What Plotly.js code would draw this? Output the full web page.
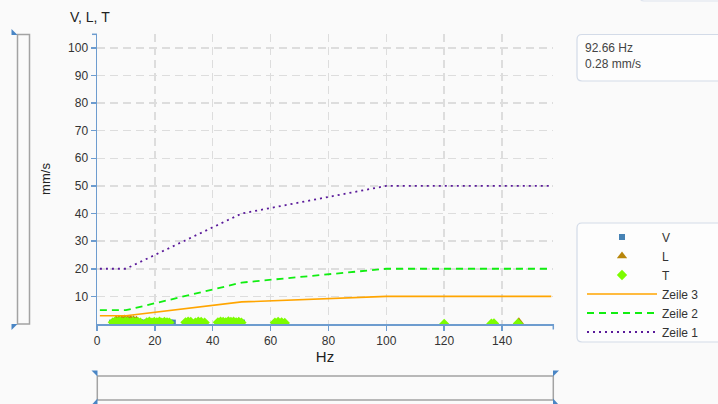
<!DOCTYPE html>
<html>
<head>
<meta charset="utf-8">
<script src="https://cdn.plot.ly/plotly-3.0.1.min.js"></script>
<style>
  html, body { margin: 0; padding: 0; background: #fafafa; }
  #chart { width: 718px; height: 404px; }
</style>
</head>
<body>
<div id="chart"></div>
<script>
// ---------- data ----------
const vHz  = [5.2, 6.1, 7.0, 7.8, 8.7, 9.5, 10.4, 11.3, 12.1, 13.0, 13.9, 14.8, 15.6, 16.5, 17.4, 18.3, 19.1, 20.0, 20.9, 21.8, 22.6, 23.5, 24.4, 25.3, 26.2, 43.5, 45.2, 46.8, 48.4, 50.1];
const vVal = [0.5, 0.4, 0.5, 0.5, 0.4, 0.5, 0.6, 0.4, 0.5, 0.5, 0.4, 0.6, 0.5, 0.4, 0.5, 0.5, 0.6, 0.4, 0.5, 0.5, 0.4, 0.5, 0.6, 0.5, 0.5, 0.4, 0.5, 0.5, 0.6, 0.5];

const lHz  = [6.6, 7.6, 8.6, 9.6, 10.6, 11.6, 12.6, 13.6, 145.8];
const lVal = [1.5, 1.7, 1.6, 1.8, 1.6, 1.7, 1.5, 1.4, 0.8];

const tHz  = [5.5, 6.3, 7.2, 8.0, 8.9, 9.8, 10.6, 11.5, 12.4, 13.3, 14.1, 15.0,
              17.2, 18.1, 19.0, 19.8, 20.7, 21.6, 22.4, 23.3, 24.2, 25.0,
              30.6, 31.5, 32.4, 34.0, 35.0, 36.0, 37.2,
              41.8, 42.7, 43.6, 44.5, 45.4, 46.3, 47.2, 48.1, 49.0, 49.9,
              61.5, 62.6, 63.8, 64.9,
              120.0, 136.3, 137.2, 145.5];
const tVal = [0.6, 0.8, 0.7, 0.9, 0.6, 0.8, 0.7, 0.5, 0.8, 0.6, 0.7, 0.5,
              0.6, 0.8, 0.5, 0.7, 0.6, 0.8, 0.5, 0.7, 0.6, 0.5,
              0.6, 0.8, 0.7, 0.5, 0.8, 0.7, 0.5,
              0.6, 0.8, 0.7, 0.6, 0.9, 0.7, 0.8, 0.6, 0.7, 0.5,
              0.5, 0.7, 0.6, 0.4,
              0.0, 0.1, 0.2, 0.2];

const zeileHz = [1, 10, 50, 100, 157];
const zeile1  = [20, 20, 40, 50, 50];
const zeile2  = [5, 5, 15, 20, 20];
const zeile3  = [3, 3, 8, 10, 10];

const xTicks = [0, 20, 40, 60, 80, 100, 120, 140];
const yTicks = [10, 20, 30, 40, 50, 60, 70, 80, 90, 100];

const readoutText = ['92.66 Hz', '0.28 mm/s'];

// ---------- geometry helpers (pixel -> paper, decoration only) ----------
const L0 = 97, W = 456, T0 = 34, H = 290;
const px = x => (x - L0) / W;
const py = y => (T0 + H - y) / H;
function poly(pts) {
  return 'M' + pts.map(p => px(p[0]) + ',' + py(p[1])).join('L') + 'Z';
}
function rrect(x0, y0, x1, y1, r) {
  const P = (x, y) => px(x) + ',' + py(y);
  return 'M' + P(x0 + r, y0) + 'L' + P(x1 - r, y0) + 'Q' + P(x1, y0) + ' ' + P(x1, y0 + r) +
         'L' + P(x1, y1 - r) + 'Q' + P(x1, y1) + ' ' + P(x1 - r, y1) +
         'L' + P(x0 + r, y1) + 'Q' + P(x0, y1) + ' ' + P(x0, y1 - r) +
         'L' + P(x0, y0 + r) + 'Q' + P(x0, y0) + ' ' + P(x0 + r, y0) + 'Z';
}

const axisColor = '#6d9ccf';
const blue = '#4a86c5';
const font = 'Liberation Sans, Arial, sans-serif';

const traces = [
  { name: 'V', x: vHz, y: vVal, type: 'scatter', mode: 'markers',
    marker: { symbol: 'square', size: 6, color: '#4682b4' } },
  { name: 'L', x: lHz, y: lVal, type: 'scatter', mode: 'markers',
    marker: { symbol: 'triangle-up', size: 9, color: '#b8860b' } },
  { name: 'T', x: tHz, y: tVal, type: 'scatter', mode: 'markers',
    marker: { symbol: 'diamond', size: 8, color: '#7cfc00' } },
  { name: 'Zeile 3', x: zeileHz, y: zeile3, type: 'scatter', mode: 'lines',
    line: { color: '#ffa500', width: 1.6 } },
  { name: 'Zeile 2', x: zeileHz, y: zeile2, type: 'scatter', mode: 'lines',
    line: { color: '#11ee11', width: 1.8, dash: '7px,5px' } },
  { name: 'Zeile 1', x: zeileHz, y: zeile1, type: 'scatter', mode: 'lines',
    line: { color: '#5a1a9a', width: 1.8, dash: '2px,4px' } }
];

const gray = '#a3a3a3';
const shapes = [
  // left vertical slider
  { type: 'rect', xref: 'paper', yref: 'paper', x0: px(17.5), x1: px(29.5), y0: py(324), y1: py(34.5),
    line: { color: gray, width: 1.5 }, fillcolor: 'rgba(0,0,0,0)' },
  { type: 'path', xref: 'paper', yref: 'paper', path: poly([[11.5, 29], [11.5, 35], [17.5, 35]]), fillcolor: blue, line: { width: 0 } },
  { type: 'path', xref: 'paper', yref: 'paper', path: poly([[11.5, 324], [17.5, 324], [11.5, 330]]), fillcolor: blue, line: { width: 0 } },
  // bottom horizontal slider
  { type: 'rect', xref: 'paper', yref: 'paper', x0: px(97.3), x1: px(553.3), y0: py(400), y1: py(376),
    line: { color: gray, width: 1.5 }, fillcolor: 'rgba(0,0,0,0)' },
  { type: 'path', xref: 'paper', yref: 'paper', path: poly([[91.5, 370.5], [97.5, 370.5], [97.5, 376.5]]), fillcolor: blue, line: { width: 0 } },
  { type: 'path', xref: 'paper', yref: 'paper', path: poly([[97.5, 398.5], [97.5, 405], [91.5, 405]]), fillcolor: blue, line: { width: 0 } },
  { type: 'path', xref: 'paper', yref: 'paper', path: poly([[553, 370.5], [559, 370.5], [553, 376.5]]), fillcolor: blue, line: { width: 0 } },
  { type: 'path', xref: 'paper', yref: 'paper', path: poly([[553, 398.5], [559, 405], [553, 405]]), fillcolor: blue, line: { width: 0 } },
  // axis end caps
  { type: 'line', xref: 'paper', yref: 'paper', x0: px(92), x1: px(97), y0: py(34.3), y1: py(34.3), line: { color: axisColor, width: 1.5 } },
  { type: 'line', xref: 'paper', yref: 'paper', x0: px(553.3), x1: px(553.3), y0: py(324), y1: py(329.5), line: { color: axisColor, width: 1.5 } },
  // readout box
  { type: 'path', xref: 'paper', yref: 'paper', path: rrect(577, 34.5, 740, 81, 5),
    line: { color: '#d3dbe8', width: 1.2 }, fillcolor: 'rgba(255,255,255,0.5)' },
  // legend box
  { type: 'path', xref: 'paper', yref: 'paper', path: rrect(577, 223, 740, 342, 5),
    line: { color: '#d3dbe8', width: 1.2 }, fillcolor: 'rgba(255,255,255,0.5)' },
  // top right box fragment
  { type: 'path', xref: 'paper', yref: 'paper', path: rrect(640, -20, 740, 1, 4),
    line: { color: '#dde3ee', width: 1.2 }, fillcolor: 'rgba(0,0,0,0)' }
];

const layout = {
  width: 718, height: 404,
  margin: { l: 97, r: 165, t: 34, b: 80, pad: 0 },
  paper_bgcolor: '#fafafa', plot_bgcolor: '#fafafa',
  font: { family: font, size: 12, color: '#333' },
  showlegend: true,
  xaxis: {
    range: [0, 157.6], tickvals: xTicks, ticktext: xTicks.map(String),
    showgrid: true, gridcolor: '#dddddd', gridwidth: 1.5, griddash: '8px,5px',
    zeroline: false, showline: true, linecolor: axisColor, linewidth: 1.5,
    ticks: 'outside', ticklen: 5, tickcolor: axisColor, tickwidth: 1.5,
    tickfont: { family: font, size: 12, color: '#333' },
    title: { text: 'Hz', font: { family: font, size: 15, color: '#222' }, standoff: 0 }
  },
  yaxis: {
    range: [0, 105], tickvals: yTicks, ticktext: yTicks.map(String),
    showgrid: true, gridcolor: '#dddddd', gridwidth: 1.5, griddash: '8px,5px',
    zeroline: false, showline: true, linecolor: axisColor, linewidth: 1.5,
    ticks: 'outside', ticklen: 5, tickcolor: axisColor, tickwidth: 1.5,
    tickfont: { family: font, size: 12, color: '#333' },
    title: { text: 'mm/s', font: { family: font, size: 13, color: '#222' }, standoff: 14 }
  },
  legend: {
    x: px(582), y: py(222.5), xanchor: 'left', yanchor: 'top',
    bgcolor: 'rgba(0,0,0,0)', borderwidth: 0, itemwidth: 70,
    tracegroupgap: 0, font: { family: font, size: 12, color: '#333' }
  },
  shapes: shapes,
  annotations: [
    { xref: 'paper', yref: 'paper', x: px(90), y: py(17), text: 'V, L, T', showarrow: false,
      xanchor: 'center', yanchor: 'middle', font: { family: font, size: 14, color: '#222' } },
    { xref: 'paper', yref: 'paper', x: px(583), y: py(56), text: readoutText.join('<br>'), showarrow: false,
      xanchor: 'left', yanchor: 'middle', align: 'left', font: { family: font, size: 12, color: '#444' } }
  ]
};

Plotly.newPlot('chart', traces, layout, { displayModeBar: false, staticPlot: true });
</script>
</body>
</html>
